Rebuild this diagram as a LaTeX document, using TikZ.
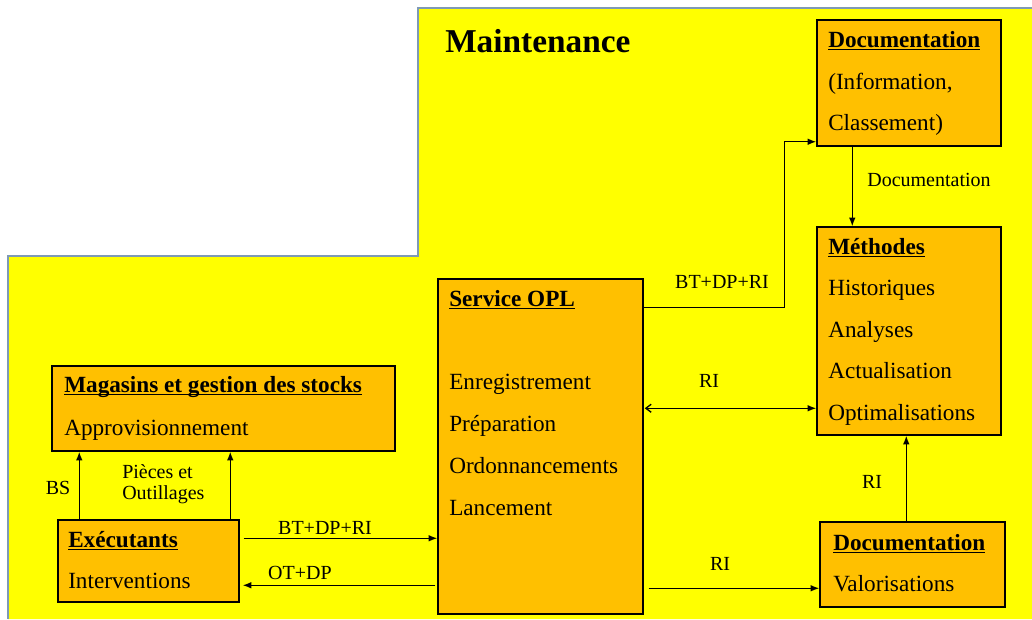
\documentclass[tikz,border=0pt]{standalone}
\usepackage{fontspec}
\setmainfont{Liberation Serif}
\usetikzlibrary{arrows.meta,calc}
\definecolor{bgyel}{HTML}{FFFF00}
\definecolor{boxor}{HTML}{FFC000}
\definecolor{brd}{HTML}{7F9AB5}
\newsavebox\myulbox
\newcommand\myul[1]{\sbox\myulbox{#1}\rlap{\rule[-2.5pt]{\wd\myulbox}{0.8pt}}\usebox\myulbox}
\newcommand\mkbox[5]{\node[boxst, minimum width={(#4-#2)*0.75pt}, minimum height={(#5-#3)*0.75pt}] (#1) at ({(#2+#4)/2},{(#3+#5)/2}) {};}
\begin{document}
\begin{tikzpicture}[x=0.75pt,y=-0.75pt,
  boxst/.style={draw=black, line width=1.1pt, fill=boxor, inner sep=0pt, rectangle},
  bt/.style={font=\fontsize{17.4}{20}\selectfont, inner sep=0pt, anchor=base west},
  lab/.style={font=\fontsize{15}{18}\selectfont, inner sep=0pt},
  arr/.style={line width=1pt, -{Latex[length=6.5pt,width=5pt]}},
  arrtwo/.style={line width=1pt, {Straight Barb[length=4pt,width=6pt]}-{Latex[length=6.5pt,width=5pt]}}]
\useasboundingbox (0,0) rectangle (1032,619);
% background zone
\fill[bgyel] (418,8) -- (1032,8) -- (1032,619) -- (8,619) -- (8,256) -- (418,256) -- cycle;
\draw[brd, line width=1.6pt] (1032,8) -- (418,8) -- (418,256) -- (8,256) -- (8,619);
\node[font=\bfseries\fontsize{25}{30}\selectfont, anchor=base west, inner sep=0pt] (title) at (445,52) {Maintenance};
% boxes
\mkbox{docA}{817}{20}{1001}{146}
\mkbox{meth}{817}{227}{1001}{435}
\mkbox{serv}{438}{279}{643}{614}
\mkbox{mag}{52}{366}{395}{451}
\mkbox{exe}{58}{520}{239}{602}
\mkbox{docB}{820}{522}{1005}{607}
% texts
\node[bt] (docA1) at (828,47) {\myul{\textbf{Documentation}}};
\node[bt] (docA2) at (828,89) {(Information,};
\node[bt] (docA3) at (828,130) {Classement)};
\node[bt] (meth1) at (828,254) {\myul{\textbf{Méthodes}}};
\node[bt] (meth2) at (828,295.5) {Historiques};
\node[bt] (meth3) at (828,337) {Analyses};
\node[bt] (meth4) at (828,378.5) {Actualisation};
\node[bt] (meth5) at (828,420) {Optimalisations};
\node[bt] (serv1) at (449,306) {\myul{\textbf{Service OPL}}};
\node[bt] (serv2) at (449,389) {Enregistrement};
\node[bt] (serv3) at (449,431) {Préparation};
\node[bt] (serv4) at (449,473) {Ordonnancements};
\node[bt] (serv5) at (449,515) {Lancement};
\node[bt] (mag1) at (64,392) {\myul{\textbf{Magasins et gestion des stocks}}};
\node[bt] (mag2) at (64,435) {Approvisionnement};
\node[bt] (exe1) at (68,547) {\myul{\textbf{Exécutants}}};
\node[bt] (exe2) at (68,588) {Interventions};
\node[bt] (docB1) at (833,550) {\myul{\textbf{Documentation}}};
\node[bt] (docB2) at (833,591) {Valorisations};
% connectors
\coordinate (bs) at ($(exe.north west)+(22,0)$);
\draw[arr] (bs) -- (bs |- mag.south);
\coordinate (po) at ($(exe.north west)+(173,0)$);
\draw[arr] (po) -- (po |- mag.south);
\coordinate (b1) at ($(exe.north east)+(4,19)$);
\draw[arr] (b1) -- (b1 -| serv.west);
\coordinate (o1) at ($(serv.north west)+(-2,307)$);
\draw[arr, shorten >=2.2pt] (o1) -- (o1 -| exe.east);
\coordinate (s1) at ($(serv.north east)+(0,29)$);
\coordinate (d1) at ($(docA.south west)+(0,-5)$);
\draw[arr] (s1) -- ++(141,0) |- (d1);
\coordinate (d2) at ($(docA.south west)+(36,0)$);
\draw[arr] (d2) -- (d2 |- meth.north);
\coordinate (r1) at ($(serv.north east)+(1,130)$);
\draw[arrtwo] (r1) -- (r1 -| meth.west);
\coordinate (r2) at ($(serv.north east)+(5,310)$);
\draw[arr] (r2) -- (r2 -| docB.west);
\coordinate (r3) at ($(docB.north west)+(87,0)$);
\draw[arr] (r3) -- (r3 |- meth.south);
% labels
\node[lab] (lbs) at (58,488) {BS};
\node[lab, anchor=west] (lpi1) at (122,472) {Pièces et};
\node[lab, anchor=west] (lpi2) at (122,495) {Outillages};
\node[lab] (lbt1) at (325,528) {BT+DP+RI};
\node[lab] (lot) at (300,573) {OT+DP};
\node[lab] (lbt2) at (722,282) {BT+DP+RI};
\node[lab] (ldoc) at (929,180) {Documentation};
\node[lab] (lri1) at (709,381) {RI};
\node[lab] (lri2) at (720,564) {RI};
\node[lab] (lri3) at (872,482) {RI};
\end{tikzpicture}
\end{document}
